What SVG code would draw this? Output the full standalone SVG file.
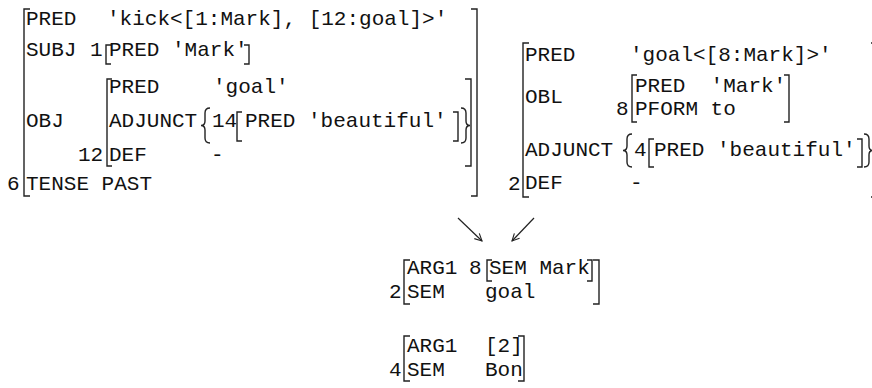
<svg xmlns="http://www.w3.org/2000/svg" width="872" height="388" viewBox="0 0 872 388">
<defs>
<style>
.t{font-family:"Liberation Mono","Courier New",monospace;font-size:21px;fill:#111;}
.b{fill:none;stroke:#222;stroke-width:1.4;}
.a{fill:none;stroke:#222;stroke-width:1.2;}
</style>
<marker id="ah" viewBox="0 0 10 10" refX="9" refY="5" markerWidth="9" markerHeight="9" orient="auto" markerUnits="userSpaceOnUse">
<path d="M1,1 L9,5 L1,9" fill="none" stroke="#222" stroke-width="1.2"/>
</marker>
</defs>
<rect width="872" height="388" fill="#fff"/>

<g id="fstr-kick">
<path class="b" d="M30,9 H24 V196 H30"/>
<path class="b" d="M471,9 H477 V196 H471"/>
<text class="t" x="7" y="190">6</text>
<text class="t" x="26" y="25">PRED</text>
<text class="t" x="107" y="25">'kick&lt;[1:Mark], [12:goal]&gt;'</text>
<text class="t" x="26" y="56">SUBJ</text>
<text class="t" x="90" y="56">1</text>
<path class="b" d="M111,45 H106 V64 H111"/>
<text class="t" x="109" y="56">PRED 'Mark'</text>
<path class="b" d="M244,45 H249 V64 H244"/>
<text class="t" x="26" y="127">OBJ</text>
<text class="t" x="78" y="161">12</text>
<path class="b" d="M112,79 H107 V166 H112"/>
<path class="b" d="M465,79 H471 V166 H465"/>
<text class="t" x="109" y="93">PRED</text>
<text class="t" x="213" y="93">'goal'</text>
<text class="t" x="109" y="127">ADJUNCT</text>
<path class="b" d="M210,108 Q205,108 205,113 L205,121 Q205,125.5 201,125.5 Q205,125.5 205,130 L205,138 Q205,143 210,143"/>
<text class="t" x="212" y="127">14</text>
<path class="b" d="M242,112 H237 V141 H242"/>
<text class="t" x="245" y="127">PRED 'beautiful'</text>
<path class="b" d="M453,112 H458 V141 H453"/>
<path class="b" d="M461,108 Q466,108 466,113 L466,121 Q466,125.5 470,125.5 Q466,125.5 466,130 L466,138 Q466,143 461,143"/>
<text class="t" x="109" y="161">DEF</text>
<text class="t" x="211" y="161">-</text>
<text class="t" x="26" y="190">TENSE PAST</text>
</g>

<g id="fstr-goal">
<path class="b" d="M529,43 H523 V197 H529"/>
<path class="b" d="M871,43 H877 V197 H871"/>
<text class="t" x="508" y="190">2</text>
<text class="t" x="525" y="61">PRED</text>
<text class="t" x="630" y="61">'goal&lt;[8:Mark]&gt;'</text>
<text class="t" x="525" y="103">OBL</text>
<text class="t" x="616" y="115">8</text>
<path class="b" d="M637,75 H632 V122 H637"/>
<text class="t" x="635" y="92" xml:space="preserve">PRED  'Mark'</text>
<text class="t" x="635" y="115">PFORM to</text>
<path class="b" d="M784,75 H789 V122 H784"/>
<text class="t" x="525" y="156">ADJUNCT</text>
<path class="b" d="M632,134 Q627,134 627,139 L627,146 Q627,150.5 623,150.5 Q627,150.5 627,155 L627,162 Q627,167 632,167"/>
<text class="t" x="634" y="156">4</text>
<path class="b" d="M654,139 H649 V167 H654"/>
<text class="t" x="654" y="156">PRED 'beautiful'</text>
<path class="b" d="M857,139 H862 V167 H857"/>
<path class="b" d="M864,134 Q869,134 869,139 L869,146 Q869,150.5 873,150.5 Q869,150.5 869,155 L869,162 Q869,167 864,167"/>
<text class="t" x="525" y="189">DEF</text>
<text class="t" x="630" y="189">-</text>
</g>

<g id="connectors">
<line class="a" x1="458" y1="218" x2="482" y2="241" marker-end="url(#ah)"/>
<line class="a" x1="534" y1="218" x2="512" y2="241" marker-end="url(#ah)"/>
</g>

<g id="sem-goal">
<path class="b" d="M410,260 H404 V304 H410"/>
<path class="b" d="M593,260 H599 V304 H593"/>
<text class="t" x="389" y="298">2</text>
<text class="t" x="407" y="274">ARG1</text>
<text class="t" x="469" y="274">8</text>
<path class="b" d="M492,260 H487 V281 H492"/>
<text class="t" x="489" y="274">SEM Mark</text>
<path class="b" d="M587,260 H592 V281 H587"/>
<text class="t" x="407" y="298">SEM</text>
<text class="t" x="485" y="298">goal</text>
</g>

<g id="sem-bon">
<path class="b" d="M410,336 H404 V381 H410"/>
<path class="b" d="M518,336 H524 V381 H518"/>
<text class="t" x="389" y="376">4</text>
<text class="t" x="407" y="352">ARG1</text>
<text class="t" x="485" y="352">[2]</text>
<text class="t" x="407" y="376">SEM</text>
<text class="t" x="485" y="376">Bon</text>
</g>
</svg>
